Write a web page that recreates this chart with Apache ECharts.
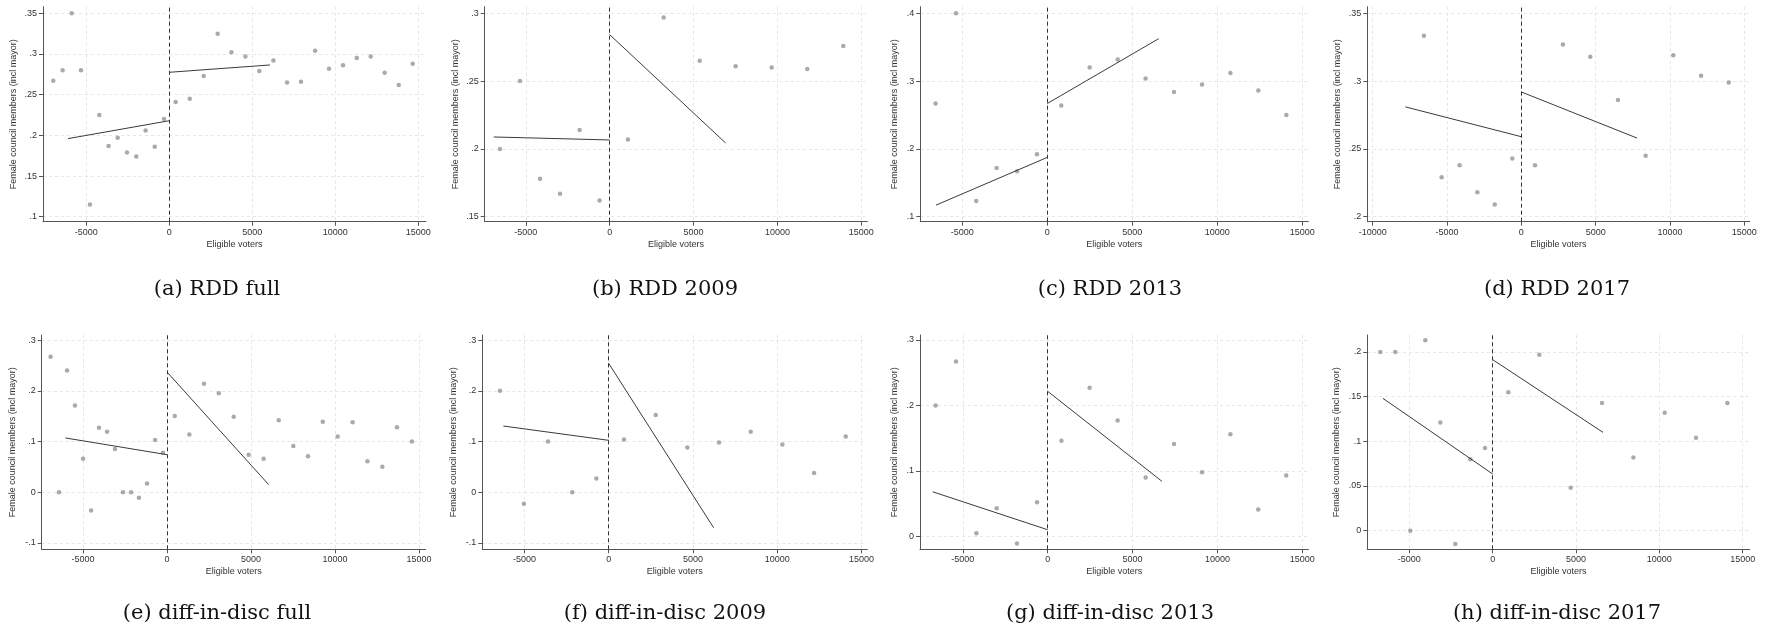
<!DOCTYPE html>
<html>
<head>
<meta charset="utf-8">
<script src="https://cdn.jsdelivr.net/npm/echarts@6/dist/echarts.min.js"></script>
<style>
html, body { margin: 0; padding: 0; background: #fff; }
#chart { width: 1771px; height: 631px; }
</style>
</head>
<body>
<div id="chart"></div>
<script>
// binned means, eligible voters relative to cutoff
const rddFullX = [-6990, -6430, -5880, -5320, -4780, -4220, -3660, -3110, -2550, -1990, -1430, -880, -320,
  380, 1230, 2070, 2910, 3740, 4580, 5420, 6270, 7090, 7930, 8780, 9620, 10460, 11290, 12130, 12970, 13820, 14660]
const rddFullY = [0.267, 0.280, 0.350, 0.280, 0.115, 0.225, 0.187, 0.197, 0.179, 0.174, 0.206, 0.186, 0.220,
  0.241, 0.245, 0.273, 0.325, 0.302, 0.297, 0.279, 0.292, 0.265, 0.266, 0.304, 0.282, 0.286, 0.295, 0.297, 0.277, 0.262, 0.288]
const rddFullFitL = [-6100, 0.196, 0, 0.218]
const rddFullFitR = [0, 0.2775, 6060, 0.2865]

const rdd2009X = [-6540, -5350, -4150, -2960, -1790, -600, 1090, 3220, 5370, 7510, 9660, 11780, 13930]
const rdd2009Y = [0.200, 0.250, 0.178, 0.167, 0.214, 0.162, 0.207, 0.297, 0.265, 0.261, 0.260, 0.259, 0.276]
const rdd2009FitL = [-6910, 0.2088, 0, 0.2066]
const rdd2009FitR = [0, 0.2843, 6910, 0.2044]

const rdd2013X = [-6570, -5370, -4180, -2980, -1780, -610, 820, 2490, 4140, 5780, 7450, 9100, 10770, 12410, 14060]
const rdd2013Y = [0.267, 0.400, 0.123, 0.172, 0.167, 0.192, 0.264, 0.320, 0.332, 0.304, 0.284, 0.295, 0.312, 0.286, 0.250]
const rdd2013FitL = [-6550, 0.117, 0, 0.1875]
const rdd2013FitR = [0, 0.267, 6550, 0.3626]

const rdd2017X = [-6550, -5360, -4150, -2960, -1790, -610, 920, 2800, 4640, 6500, 8360, 10220, 12090, 13950]
const rdd2017Y = [0.3335, 0.229, 0.238, 0.218, 0.209, 0.243, 0.238, 0.327, 0.318, 0.286, 0.245, 0.319, 0.304, 0.299]
const rdd2017FitL = [-7800, 0.281, 0, 0.259]
const rdd2017FitR = [0, 0.292, 7780, 0.258]

const didFullX = [-6930, -6430, -5950, -5480, -5000, -4520, -4050, -3570, -3100, -2620, -2140, -1670, -1190, -710, -240,
  460, 1330, 2200, 3080, 3970, 4860, 5750, 6650, 7520, 8390, 9270, 10160, 11050, 11930, 12820, 13690, 14580]
const didFullY = [0.267, 0, 0.240, 0.171, 0.066, -0.036, 0.127, 0.119, 0.085, 0, 0, -0.011, 0.017, 0.103, 0.078,
  0.150, 0.114, 0.214, 0.195, 0.149, 0.074, 0.066, 0.142, 0.091, 0.071, 0.139, 0.110, 0.138, 0.061, 0.050, 0.128, 0.100]
const didFullFitL = [-6050, 0.107, 0, 0.074]
const didFullFitR = [0, 0.237, 6050, 0.015]

const did2009X = [-6450, -5030, -3600, -2160, -730, 910, 2790, 4670, 6550, 8430, 10310, 12190, 14070]
const did2009Y = [0.200, -0.0225, 0.100, 0, 0.027, 0.104, 0.152, 0.088, 0.098, 0.119, 0.094, 0.038, 0.110]
const did2009FitL = [-6250, 0.1305, 0, 0.1023]
const did2009FitR = [0, 0.254, 6230, -0.070]

const did2013X = [-6600, -5400, -4200, -3000, -1810, -630, 810, 2470, 4120, 5770, 7440, 9090, 10760, 12400, 14050]
const did2013Y = [0.200, 0.267, 0.0045, 0.043, -0.011, 0.052, 0.146, 0.227, 0.177, 0.090, 0.141, 0.098, 0.156, 0.041, 0.093]
const did2013FitL = [-6770, 0.068, 0, 0.010]
const did2013FitR = [0, 0.2215, 6730, 0.084]

const did2017X = [-6740, -5840, -4940, -4040, -3140, -2240, -1340, -460, 940, 2800, 4680, 6560, 8440, 10320, 12200, 14080]
const did2017Y = [0.200, 0.200, 0, 0.213, 0.121, -0.015, 0.080, 0.0925, 0.155, 0.197, 0.048, 0.143, 0.082, 0.132, 0.104, 0.143]
const did2017FitL = [-6580, 0.148, 0, 0.0634]
const did2017FitR = [0, 0.1914, 6620, 0.110]

const xTicks = [-5000, 0, 5000, 10000, 15000]
const xTicksWide = [-10000, -5000, 0, 5000, 10000, 15000]
const cutoff = 0

const captions = ['(a) RDD full', '(b) RDD 2009', '(c) RDD 2013', '(d) RDD 2017',
  '(e) diff-in-disc full', '(f) diff-in-disc 2009', '(g) diff-in-disc 2013', '(h) diff-in-disc 2017']

const panels = [
  { x: rddFullX, y: rddFullY, fl: rddFullFitL, fr: rddFullFitR, grid: [43, 6.7, 383, 215], xr: [-7610, 15460], yr: [0.0939, 0.3581], xt: xTicks, yt: [0.1, 0.15, 0.2, 0.25, 0.3, 0.35], gap: 25 },
  { x: rdd2009X, y: rdd2009Y, fl: rdd2009FitL, fr: rdd2009FitR, grid: [484.7, 6.7, 382.6, 215], xr: [-7450, 15360], yr: [0.1463, 0.3049], xt: xTicks, yt: [0.15, 0.2, 0.25, 0.3], gap: 25 },
  { x: rdd2013X, y: rdd2013Y, fl: rdd2013FitL, fr: rdd2013FitR, grid: [920.3, 6.7, 388, 215], xr: [-7470, 15350], yr: [0.0926, 0.4098], xt: xTicks, yt: [0.1, 0.2, 0.3, 0.4], gap: 21 },
  { x: rdd2017X, y: rdd2017Y, fl: rdd2017FitL, fr: rdd2017FitR, grid: [1367.3, 6.7, 382.4, 215], xr: [-10360, 15360], yr: [0.1963, 0.3549], xt: xTicksWide, yt: [0.2, 0.25, 0.3, 0.35], gap: 25 },
  { x: didFullX, y: didFullY, fl: didFullFitL, fr: didFullFitR, grid: [41.7, 335, 384, 214.3], xr: [-7460, 15400], yr: [-0.1125, 0.3099], xt: xTicks, yt: [-0.1, 0, 0.1, 0.2, 0.3], gap: 25 },
  { x: did2009X, y: did2009Y, fl: did2009FitL, fr: did2009FitR, grid: [482.3, 335, 385, 214.3], xr: [-7500, 15350], yr: [-0.1125, 0.3099], xt: xTicks, yt: [-0.1, 0, 0.1, 0.2, 0.3], gap: 24 },
  { x: did2013X, y: did2013Y, fl: did2013FitL, fr: did2013FitR, grid: [920, 335, 388.3, 214.3], xr: [-7520, 15350], yr: [-0.0199, 0.3076], xt: xTicks, yt: [0, 0.1, 0.2, 0.3], gap: 21 },
  { x: did2017X, y: did2017Y, fl: did2017FitL, fr: did2017FitR, grid: [1367.3, 335, 382.4, 214.3], xr: [-7520, 15420], yr: [-0.0209, 0.219], xt: xTicks, yt: [0, 0.05, 0.1, 0.15, 0.2], gap: 26 }
]
const captionX = [217, 665, 1110, 1557]
const captionY = [290, 614]

const axisColor = '#555'
const labelFont = { fontFamily: 'Liberation Sans', fontSize: 9, color: '#333' }

function fmt(v) {
  return String(+(+v).toFixed(4)).replace(/^(-?)0\./, '$1.')
}

const chart = echarts.init(document.getElementById('chart'))

const grid = [], xAxis = [], yAxis = [], series = [], graphic = []

panels.forEach((p, i) => {
  grid.push({ left: p.grid[0], top: p.grid[1], width: p.grid[2], height: p.grid[3] })

  xAxis.push({
    gridIndex: i, type: 'value', min: p.xr[0], max: p.xr[1],
    name: 'Eligible voters', nameLocation: 'middle', nameGap: 18,
    nameTextStyle: labelFont,
    axisLine: { onZero: false, lineStyle: { color: axisColor } },
    axisTick: { customValues: p.xt, length: 4, lineStyle: { color: axisColor } },
    axisLabel: { customValues: p.xt, margin: 6, formatter: v => String(Math.round(v)), ...labelFont },
    splitLine: { show: true, lineStyle: { color: '#e6e6e6', type: [3, 3] } }
  })

  yAxis.push({
    gridIndex: i, type: 'value', min: p.yr[0], max: p.yr[1],
    name: 'Female council members (incl mayor)', nameLocation: 'middle', nameGap: p.gap,
    nameTextStyle: labelFont,
    axisLine: { show: true, onZero: false, lineStyle: { color: axisColor } },
    axisTick: { show: true, customValues: p.yt, length: 4, lineStyle: { color: axisColor } },
    axisLabel: { customValues: p.yt, margin: 6, formatter: fmt, ...labelFont },
    splitLine: { show: true, lineStyle: { color: '#e6e6e6', type: [3, 3] } }
  })

  series.push({
    type: 'scatter', xAxisIndex: i, yAxisIndex: i,
    data: p.x.map((v, k) => [v, p.y[k]]),
    symbolSize: 4.5,
    itemStyle: { color: '#959595' },
    markLine: {
      silent: true, symbol: ['none', 'none'], label: { show: false },
      lineStyle: { color: '#333', type: [4, 3], width: 1 },
      data: [{ xAxis: cutoff }]
    }
  })

  ;[p.fl, p.fr].forEach(f => {
    series.push({
      type: 'line', xAxisIndex: i, yAxisIndex: i,
      data: [[f[0], f[1]], [f[2], f[3]]],
      showSymbol: false, symbol: 'none',
      lineStyle: { color: '#3a3a3a', width: 1 }
    })
  })

  graphic.push({
    type: 'text',
    x: captionX[i % 4], y: captionY[Math.floor(i / 4)],
    style: {
      text: captions[i], fontFamily: 'DejaVu Serif', fontSize: 21, fill: '#111',
      align: 'center', verticalAlign: 'middle'
    }
  })
})

chart.setOption({
  animation: false,
  grid, xAxis, yAxis, series, graphic
})
</script>
</body>
</html>
